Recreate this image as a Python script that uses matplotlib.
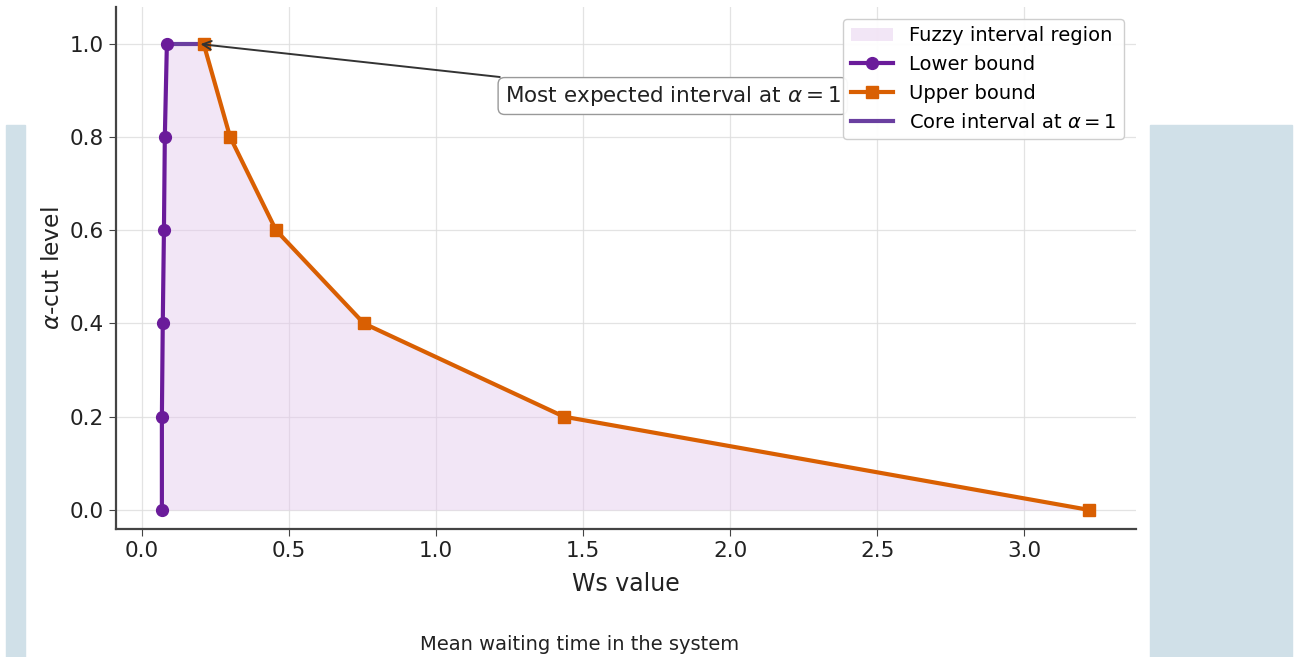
import numpy as np
import matplotlib.pyplot as plt
from matplotlib.patches import Rectangle

# alpha-cut levels and bounds
alpha = [0.0, 0.2, 0.4, 0.6, 0.8, 1.0]
lower = [0.068, 0.068, 0.071, 0.075, 0.078, 0.085]
upper = [3.22, 1.435, 0.755, 0.456, 0.30, 0.21]

purple = '#6a1b9a'
orange = '#d95f02'

fig = plt.figure(figsize=(12.94, 6.57), dpi=100)

# light blue side panels behind the white card
fig.patches.append(Rectangle((6 / 1294, 0), 19 / 1294, 1 - 125 / 657,
                             transform=fig.transFigure, color='#d0e0e8', zorder=0))
fig.patches.append(Rectangle((1150 / 1294, 0), 142 / 1294, 1 - 125 / 657,
                             transform=fig.transFigure, color='#d0e0e8', zorder=0))

ax = fig.add_axes([116 / 1294, 1 - 529 / 657, 1020 / 1294, 522 / 657])
ax.set_facecolor('white')

ax.fill_betweenx(alpha, lower, upper, color='#e4c8ec', alpha=0.45,
                 linewidth=0, label='Fuzzy interval region')
ax.plot(lower, alpha, color=purple, marker='o', markersize=8.5, linewidth=3,
        label='Lower bound', zorder=3)
ax.plot(upper, alpha, color=orange, marker='s', markersize=8.5, linewidth=3,
        label='Upper bound', zorder=3)
ax.plot([lower[-1], upper[-1]], [1.0, 1.0], color='#6a3fa0', linewidth=3,
        label=r'Core interval at $\alpha = 1$', zorder=2)

ax.annotate(r'Most expected interval at $\alpha = 1$',
            xy=(0.19, 1.0), xytext=(1.805, 0.888),
            ha='center', va='center', fontsize=15.5, color='#222222',
            bbox=dict(boxstyle='round,pad=0.3', fc='white', ec='#999999', lw=1),
            arrowprops=dict(arrowstyle='->', color='#333333', lw=1.4), zorder=4)

ax.set_xlim(-0.088, 3.38)
ax.set_ylim(-0.041, 1.079)
ax.set_xticks(np.arange(0, 3.01, 0.5))
ax.set_yticks(np.arange(0, 1.01, 0.2))
ax.tick_params(labelsize=15.5, length=5, color='#444444', labelcolor='#222222')
ax.grid(True, color='#dddddd', linewidth=0.9, alpha=0.8)
ax.set_axisbelow(True)
for s in ['top', 'right']:
    ax.spines[s].set_visible(False)
for s in ['left', 'bottom']:
    ax.spines[s].set_color('#444444')
    ax.spines[s].set_linewidth(1.6)

ax.set_xlabel('Ws value', fontsize=17, color='#222222', labelpad=8)
ax.set_ylabel(r'$\alpha$-cut level', fontsize=16.8, color='#222222')

leg = ax.legend(loc='upper right', fontsize=14, framealpha=0.95,
                edgecolor='#cccccc', handlelength=2.2, borderaxespad=0.6)
leg.set_zorder(5)

fig.text(580 / 1294, 1 - 645 / 657, 'Mean waiting time in the system',
         ha='center', va='center', fontsize=14, color='#222222')

fig.savefig('out.png', dpi=100)
